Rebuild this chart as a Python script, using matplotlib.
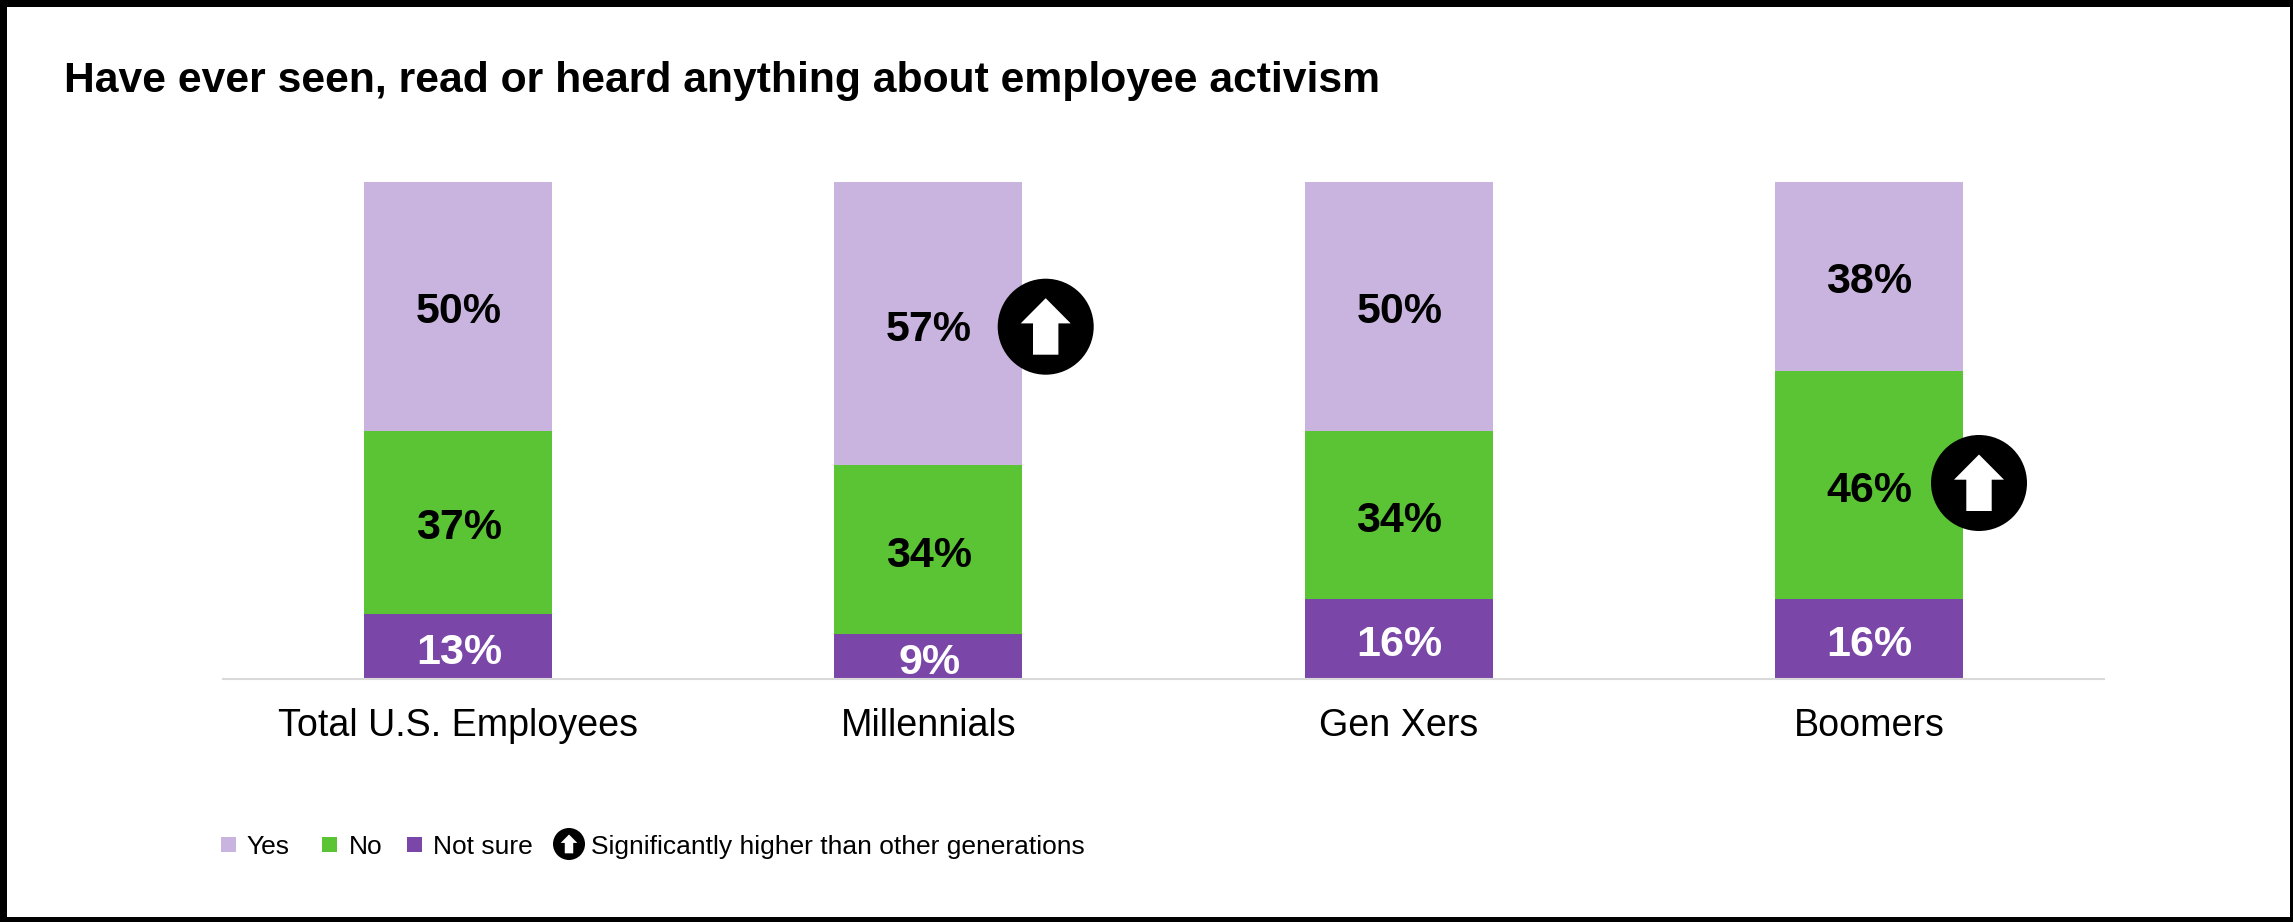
import matplotlib
matplotlib.use("Agg")
import matplotlib.pyplot as plt
from matplotlib.patches import Circle, Polygon, Rectangle
from matplotlib.transforms import Affine2D

categories = ["Total U.S. Employees", "Millennials", "Gen Xers", "Boomers"]
not_sure = [13, 9, 16, 16]
no = [37, 34, 34, 46]
yes = [50, 57, 50, 38]

series_names = ["Yes", "No", "Not sure"]
title = "Have ever seen, read or heard anything about employee activism"
marker_note = "Significantly higher than other generations"

LILAC = "#C9B4DF"
GREEN = "#5BC434"
PURPLE = "#7A47A9"

WIDTH, HEIGHT = 2293, 922
plt.rcParams["font.family"] = ["Liberation Sans", "DejaVu Sans"]

fig = plt.figure(figsize=(WIDTH / 100, HEIGHT / 100), dpi=100, facecolor="white")
# Pixel coordinates with the origin at the top left of the figure
px = Affine2D().scale(1 / WIDTH, -1 / HEIGHT).translate(0, 1) + fig.transFigure

ax = fig.add_axes([223 / WIDTH, 1 - 679 / HEIGHT, (2104 - 223) / WIDTH, 497 / HEIGHT])
positions = list(range(len(categories)))
bar_width = 0.4

bottoms = [0] * len(categories)
stack = [(not_sure, PURPLE, "white"), (no, GREEN, "black"), (yes, LILAC, "black")]
for values, colour, text_colour in stack:
    ax.bar(positions, values, bar_width, bottom=bottoms, color=colour, linewidth=0)
    for x, base, value in zip(positions, bottoms, values):
        ax.annotate(f"{value}%", (x, base + value / 2), xytext=(0.5, -1), textcoords="offset points",
                    ha="center", va="center_baseline",
                    fontsize=31, fontweight="bold", color=text_colour)
    bottoms = [b + v for b, v in zip(bottoms, values)]

ax.set_xlim(-0.5, 3.5)
ax.set_ylim(0, 100)
ax.set_yticks([])
ax.set_xticks(positions, categories, fontsize=27.1)
ax.tick_params(axis="x", length=0, pad=21)
for side in ("top", "left", "right"):
    ax.spines[side].set_visible(False)
ax.spines["bottom"].set_color("#D9D9D9")
ax.spines["bottom"].set_linewidth(1.5)


def up_badge(cx, cy, radius):
    """Black disc holding a white upward arrow, sized by its radius in pixels."""
    fig.add_artist(Circle((cx, cy), radius, transform=px, facecolor="black", edgecolor="none", zorder=5))
    u = radius / 48
    outline = [(0, -28.5), (25, -3.3), (12.7, -3.3), (12.7, 28), (-12.7, 28), (-12.7, -3.3), (-25, -3.3)]
    points = [(cx + a * u, cy + b * u) for a, b in outline]
    fig.add_artist(Polygon(points, closed=True, transform=px, facecolor="white", edgecolor="none", zorder=6))


up_badge(1045.7, 326.7, 48)
up_badge(1979, 483, 48)

fig.text(64, 92, title, transform=px, fontsize=30.67, fontweight="bold", color="black", va="baseline")

# Legend row
swatches = [(221, LILAC), (322, GREEN), (407, PURPLE)]
label_x = [246.5, 348.5, 433]
for (x, colour), name, tx in zip(swatches, series_names, label_x):
    fig.add_artist(Rectangle((x, 837), 15, 15, transform=px, facecolor=colour, edgecolor="none"))
    fig.text(tx, 853.5, name, transform=px, fontsize=19, color="black", va="baseline")
up_badge(569, 844, 16)
fig.text(591, 853.5, marker_note, transform=px, fontsize=19, color="black", va="baseline")

# Black frame around the whole figure
for rect in [(0, 0, WIDTH, 7), (0, 917, WIDTH, 5), (0, 0, 7, HEIGHT), (2289.5, 0, 3.5, HEIGHT)]:
    fig.add_artist(Rectangle(rect[:2], rect[2], rect[3], transform=px, facecolor="black", edgecolor="none", zorder=10))

fig.savefig("out.png", dpi=100, facecolor="white")
